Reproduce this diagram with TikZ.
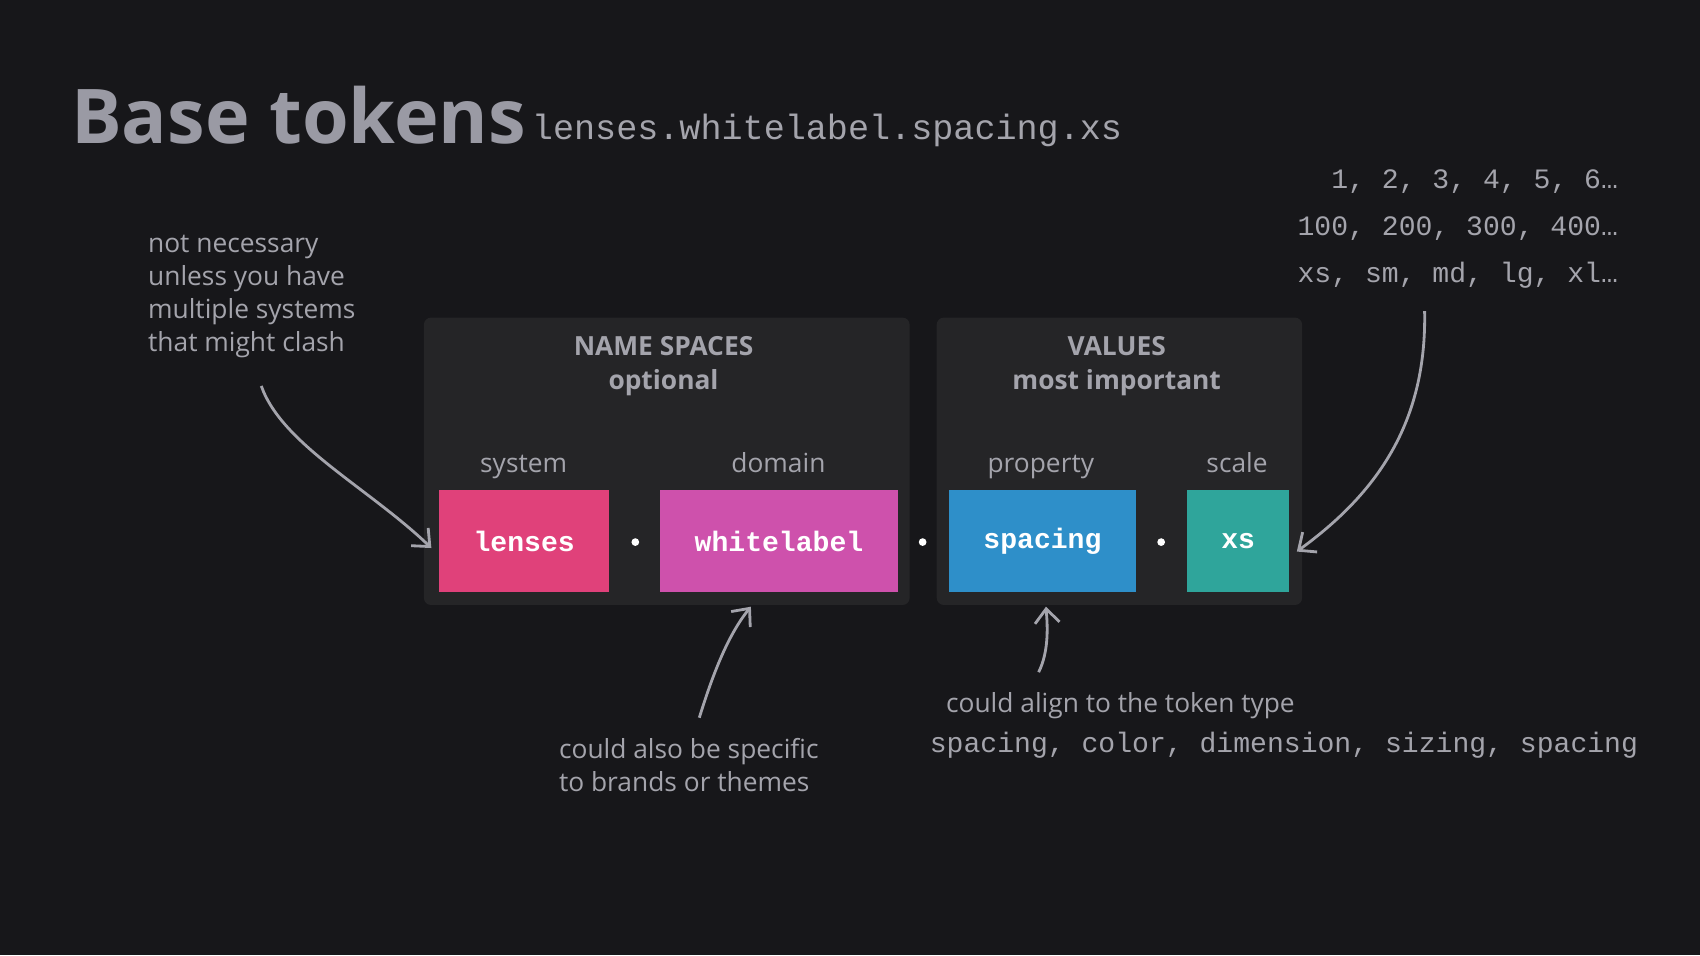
\documentclass[tikz,border=0pt]{standalone}
\usepackage{fontspec}
\setmainfont{Open Sans}
\setmonofont{Liberation Mono}
\usetikzlibrary{arrows.meta}
\definecolor{bg}{HTML}{17171A}
\definecolor{panel}{HTML}{252527}
\definecolor{txt}{HTML}{A4A4AC}
\definecolor{ttl}{HTML}{9A9AA4}
\definecolor{pinkc}{HTML}{E0417A}
\definecolor{magc}{HTML}{CE51AC}
\definecolor{bluec}{HTML}{2E8FC9}
\definecolor{tealc}{HTML}{2FA59B}
\tikzset{
  token/.style={minimum height=94*0.010842cm, inner sep=0pt, text=white,
    font=\fontsize{8}{9}\selectfont\ttfamily\bfseries},
  panelbox/.style={fill=panel, rounded corners=2pt},
  note/.style={text=txt, font=\fontsize{7.5}{9.4}\selectfont, inner sep=0pt},
  code/.style={text=txt, font=\fontsize{8}{13.4}\selectfont\ttfamily, inner sep=0pt},
  head/.style={text=txt, font=\fontsize{7.5}{9.6}\selectfont\bfseries, align=center, inner sep=0pt},
  sep/.style={circle, fill=white, inner sep=0pt, minimum size=2.2pt},
  hand/.style={draw=txt, line width=0.8pt, -{Straight Barb[length=4pt,width=7pt]}}
}
\begin{document}
\begin{tikzpicture}[x=0.010842cm, y=-0.010842cm]
  \fill[bg] (0,0) rectangle (1568,881);
  \useasboundingbox (0,0) rectangle (1568,881);

  % title line
  \node[anchor=base west, text=ttl, inner sep=0pt, font=\fontsize{21.5}{24}\selectfont\bfseries] (title) at (65,132) {Base tokens};
  \node[anchor=base west, code, font=\fontsize{10}{12}\selectfont\ttfamily] (path) at (490,129) {lenses.whitelabel.spacing.xs};

  % panels
  \fill[panelbox] (391,293) rectangle (839,558);
  \fill[panelbox] (864,293) rectangle (1201,558);
  \node[head] (ns) at (612,338) {NAME SPACES\\optional};
  \node[head] (vals) at (1030,338) {VALUES\\most important};

  % tokens
  \node[token, fill=pinkc, minimum width=157*0.010842cm] (lenses) at (483.5,499) {lenses};
  \node[token, fill=magc, minimum width=219*0.010842cm] (whitelabel) at (718.5,499) {whitelabel};
  \node[token, fill=bluec, minimum width=173*0.010842cm] (spacing) at (961.5,499) {spacing};
  \node[token, fill=tealc, minimum width=94*0.010842cm] (xs) at (1142,499) {xs};
  \node[sep] (d1) at (586,500) {};
  \node[sep] (d2) at (851,500) {};
  \node[sep] (d3) at (1071,500) {};

  \node[note, anchor=base] (lsys) at (483,436) {system};
  \node[note, anchor=base] (ldom) at (718,436) {domain};
  \node[note, anchor=base] (lprop) at (960,436) {property};
  \node[note, anchor=base] (lscale) at (1141,436) {scale};

  % annotations
  \node[note, align=left, anchor=north west] (clash) at (136,216) {not necessary\\unless you have\\multiple systems\\that might clash};
  \node[code, align=right, anchor=north east] (scales) at (1493,156) {1, 2, 3, 4, 5, 6…\\100, 200, 300, 400…\\xs, sm, md, lg, xl…};
  \node[note, align=left, anchor=north west] (brands) at (515,680) {could also be specific\\to brands or themes};
  \node[note, anchor=base west] (align) at (872,657) {could align to the token type};
  \node[code, anchor=base west] (types) at (857,694) {spacing, color, dimension, sizing, spacing};

  % arrows
  \coordinate (a1) at (241,356);
  \coordinate (a2) at (1314,287);
  \coordinate (a3) at (645,662);
  \coordinate (a4) at (958,620);
  \draw[hand] (a1) .. controls (260,410) and (340,450) .. ([xshift=-2pt,yshift=-2pt]lenses.west);
  \draw[hand] (a2) .. controls (1316,390) and (1270,455) .. ([xshift=2pt,yshift=-3pt]xs.east);
  \draw[hand] (a3) .. controls (658,620) and (672,585) .. ([xshift=-8pt,yshift=-4pt]whitelabel.south);
  \draw[hand] (a4) .. controls (968,600) and (966,575) .. ([xshift=1pt,yshift=-4pt]spacing.south);
\end{tikzpicture}
\end{document}
